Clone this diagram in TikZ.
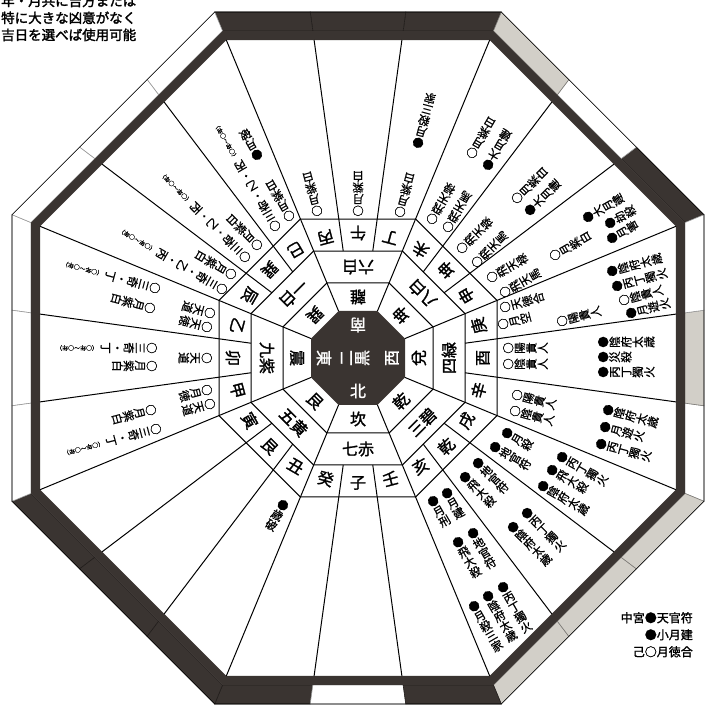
\documentclass[tikz,border=0pt]{standalone}
\usepackage{fontspec}
\setmainfont{Noto Sans CJK JP}
\newfontfamily\jpb{Noto Sans CJK JP}[FakeBold=1.5]
\newfontfamily\jpm{Noto Sans CJK JP}[FakeBold=0.8]
\newfontfamily\capf{Noto Sans CJK JP}[FakeBold=2]
\usetikzlibrary{calc}
\definecolor{dk}{HTML}{3A3431}
\definecolor{gy}{HTML}{D2CFC8}
\def\K{1.082392}
\makeatletter
\def\vt@loop#1{\ifx\relax#1\else\hbox to 1em{\hss\vrule height .88em depth .12em width 0pt #1\hss}\expandafter\vt@loop\fi}
\newcommand\vt[1]{\vbox{\offinterlineskip\kern-.5em\vt@loop#1\relax}}
\newcommand\vtp[2]{\vbox{\offinterlineskip\kern-.5em\vt@loop#1\relax\kern2pt\hbox to 1em{\hss\rotatebox{-90}{\fontsize{6}{6}\selectfont #2}\hss}}}
\makeatother
\newcommand\octp[1]{(22.5:{#1*\K}) -- (67.5:{#1*\K}) -- (112.5:{#1*\K}) -- (157.5:{#1*\K}) -- (202.5:{#1*\K}) -- (247.5:{#1*\K}) -- (292.5:{#1*\K}) -- (337.5:{#1*\K}) -- cycle}
\newcommand\insec[2]{\begin{scope}[rotate={#1+90},transform shape]#2\end{scope}}
\newcommand\seg[3]{\filldraw[fill=#3,draw=#3!60!black,line width=.6]
 ($({#1-22.5}:{327*\K})!{#2/3}!({#1+22.5}:{327*\K})$) --
 ($({#1-22.5}:{327*\K})!{(#2+1)/3}!({#1+22.5}:{327*\K})$) --
 ($({#1-22.5}:{346*\K})!{(#2+1)/3}!({#1+22.5}:{346*\K})$) --
 ($({#1-22.5}:{346*\K})!{#2/3}!({#1+22.5}:{346*\K})$) -- cycle;}
\tikzset{
 big/.style={inner sep=0,font=\jpb\fontsize{16}{16}\selectfont},
 tx/.style={inner sep=0,anchor=north,font=\jpm\fontsize{11.5}{11.5}\selectfont},
 wt/.style={inner sep=0,text=white,font=\jpb\fontsize{16}{16}\selectfont},
 captx/.style={inner sep=0,anchor=base west,font=\capf\fontsize{13.5}{14}\selectfont},
}
\newcommand\itm[4]{\node[tx,rotate={#1+90}] at (#2,{710-#3}) {\vt{#4}};}
\newcommand\itp[4]{\node[tx,rotate={#1+90}] at (#2,{710-#3}) {\vtp{#4}{（○年〜○年）}};}
\begin{document}
\begin{tikzpicture}[x=1pt,y=1pt]
\useasboundingbox (0,0) rectangle (712,710);
\begin{scope}[shift={(358,352)}]
 \foreach \f/\a/\b/\c in {90/dk/dk/dk,45/dk/white/gy,0/white/gy/white,-45/gy/gy/gy,-90/dk/white/dk,-135/dk/dk/dk,180/white/white/white,135/white/white/white}{
   \seg{\f}{0}{\a}\seg{\f}{1}{\b}\seg{\f}{2}{\c}}
 \draw[line width=.6] \octp{346};
 \fill[dk,even odd rule] \octp{318} \octp{327};
 \fill[dk] \octp{47};
 \draw[line width=1] \octp{75} \octp{107} \octp{139};
 \foreach \p in {22.5,67.5,...,337.5} \draw[line width=1] (\p:{47*\K}) -- (\p:{318*\K});
 \foreach \f in {0,45,...,315}{
  \draw[line width=1] ($({\f-22.5}:{107*\K})!1/3!({\f+22.5}:{107*\K})$) -- ($({\f-22.5}:{318*\K})!1/3!({\f+22.5}:{318*\K})$);
  \draw[line width=1] ($({\f-22.5}:{107*\K})!2/3!({\f+22.5}:{107*\K})$) -- ($({\f-22.5}:{318*\K})!2/3!({\f+22.5}:{318*\K})$);}
 \foreach \t/\s/\a in {離/六白/90,坤/八白/45,兌/四緑/0,乾/三碧/-45,坎/七赤/-90,艮/五黄/-135,震/九紫/180,巽/一白/135}{
  \insec{\a}{\node[big] at (0,-61) {\t}; \node[big] at (0,-91) {\s};}}
 \foreach \m/\a in {丙/105,午/90,丁/75,未/60,坤/45,申/30,庚/15,酉/0,辛/-15,戌/-30,乾/-45,亥/-60,壬/-75,子/-90,癸/-105,丑/-120,艮/-135,寅/-150,甲/-165,卯/180,乙/165,辰/150,巽/135,巳/120}{
  \insec{\a}{\node[big] at (0,-125) {\m};}}
 \insec{90}{\node[wt] at (0,-33) {南};}
 \insec{-90}{\node[wt] at (0,-33) {北};}
 \insec{180}{\node[wt] at (0,-34) {東};}
 \insec{0}{\node[wt] at (0,-34) {西};}
 \node[wt,rotate=90] at (0,0) {\vt{二黒}};
\end{scope}
% S
\itm{105}{317}{211}{○月紫白}
\itm{90}{358}{211}{○月紫白}
\itm{75}{400}{212}{○月紫白}
\itm{75}{418}{143}{●月殺三家}
% SE
\itm{120}{289}{216}{○月紫白}
\itp{120}{275}{226}{○三奇・乙・丙}
\itm{120}{257}{155}{●月破}
\itm{135}{257}{245}{○月紫白}
\itp{135}{245}{257}{○三奇・乙・丙}
\itm{150}{231}{274}{○月紫白}
\itp{150}{222}{289}{○三奇・乙・丙}
% E
\itm{165}{210}{313}{○天道}
\itm{165}{207}{327}{○天徳}
\itp{165}{155}{288}{○三奇・丁}
\itm{165}{150}{308}{○月紫白}
\itm{180}{207}{358}{○天道}
\itp{180}{152}{348}{○三奇・丁}
\itm{180}{152}{366}{○月紫白}
\itm{-165}{207}{390}{○月徳}
\itm{-165}{210}{404}{○天道}
\itm{-165}{151}{410}{○月紫白}
\itp{-165}{156}{429}{○三奇・丁}
% SW
\itm{60}{432}{219}{○飛天禄}
\itm{60}{448}{227}{○飛天馬}
\itm{60}{472}{153}{○月紫白}
\itm{60}{488}{165}{●大月建}
\itm{45}{462}{248}{○飛天禄}
\itm{45}{477}{262}{○飛天馬}
\itm{45}{517}{198}{○月紫白}
\itm{45}{530}{210}{●大月建}
\itm{30}{492}{277}{○飛天禄}
\itm{30}{505}{292}{○飛天馬}
\itm{30}{555}{255}{○月紫白}
\itm{30}{588}{217}{●大月建}
\itm{30}{610}{223}{●劫殺}
\itm{30}{612}{238}{●月害}
% W
\itm{15}{505}{307}{○天徳合}
\itm{15}{503}{324}{○月空}
\itm{15}{562}{321}{○陽貴人}
\itm{15}{612}{271}{●陰府太歳}
\itm{15}{617}{286}{●丙丁獨火}
\itm{15}{624}{300}{○陰貴人}
\itm{15}{631}{313}{●月遊火}
\itm{0}{508}{348}{○陽貴人}
\itm{0}{508}{364}{○陰貴人}
\itm{0}{603}{342}{●陰府太歳}
\itm{0}{603}{357}{●災殺}
\itm{0}{603}{372}{●丙丁獨火}
\itm{-15}{517}{395}{○陽貴人}
\itm{-15}{515}{411}{○陰貴人}
\itm{-15}{608}{410}{●陰府太歳}
\itm{-15}{605}{427}{●月遊火}
\itm{-15}{601}{444}{●丙丁獨火}
% NW
\itm{-30}{507}{433}{●月殺}
\itm{-30}{495}{447}{●地官符}
\itm{-30}{562}{457}{●丙丁獨火}
\itm{-30}{552}{470}{●飛大殺}
\itm{-30}{543}{486}{●陰府太歳}
\itm{-45}{478}{463}{●地官符}
\itm{-45}{465}{477}{●飛大殺}
\itm{-45}{527}{513}{●丙丁獨火}
\itm{-45}{513}{527}{●陰府太歳}
\itm{-60}{447}{493}{●月建}
\itm{-60}{433}{501}{●月刑}
\itm{-60}{473}{533}{●地官符}
\itm{-60}{458}{542}{●飛大殺}
\itm{-60}{503}{587}{●丙丁獨火}
\itm{-60}{488}{596}{●陰府太歳}
\itm{-60}{474}{606}{●月殺三家}
% NE
\itm{-120}{283}{505}{●歳破}
% legend
\node[anchor=north east,inner sep=0,align=right,font=\jpb\fontsize{12}{17}\selectfont] at (693,98) {中宮●天官符\\●小月建\\己○月徳合};
% caption
\node[captx] at (1,{710-6}) {年・月共に吉方または};
\node[captx] at (1,{710-23}) {特に大きな凶意がなく};
\node[captx] at (1,{710-40}) {吉日を選べば使用可能};
\end{tikzpicture}
\end{document}
